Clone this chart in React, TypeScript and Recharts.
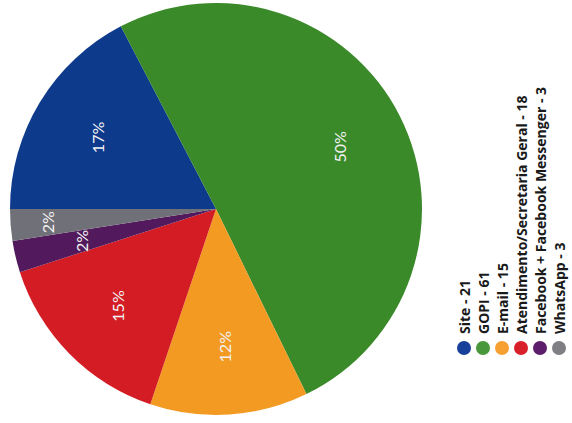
import React from "react";
import { PieChart, Pie, Cell, Legend } from "recharts";

const categories = [
  "Site - 21",
  "GOPI - 61",
  "E-mail - 15",
  "Atendimento/Secretaria Geral - 18",
  "Facebook + Facebook Messenger - 3",
  "WhatsApp - 3",
];
const values = [21, 61, 15, 18, 3, 3];
const colors = ["#0e3a8c", "#3a8a2a", "#f39a22", "#d41c24", "#521a5c", "#707078"];
const legendColors = ["#16409a", "#48973a", "#f7a032", "#d8202a", "#5c1e6c", "#7e7e84"];

const data = categories.map((name, i) => ({ name, value: values[i], fill: colors[i] }));

const RAD = Math.PI / 180;

const renderLabel = (props: any) => {
  const { cx, cy, midAngle, outerRadius, percent, index } = props;
  const f = index === 5 ? 0.82 : 0.67;
  const r = outerRadius * f;
  const x = cx + r * Math.cos(-midAngle * RAD);
  const y = cy + r * Math.sin(-midAngle * RAD);
  return (
    <text
      x={x}
      y={y}
      fill="#f2f2f2"
      fontFamily="Lato, sans-serif"
      fontSize={16}
      textAnchor="middle"
      dominantBaseline="central"
      transform={`rotate(-90, ${x}, ${y})`}
    >
      {`${Math.round(percent * 100)}%`}
    </text>
  );
};

const renderLegend = (props: any) => {
  const payload = [...(props.payload || [])].sort(
    (a: any, b: any) => categories.indexOf(a.value) - categories.indexOf(b.value)
  );
  const x0 = 19;
  const step = 19;
  return (
    <svg width={127} height={423} style={{ display: "block" }}>
      {payload.map((p: any) => {
        const i = categories.indexOf(p.value);
        const x = x0 + i * step;
        return (
          <g key={p.value}>
            <circle cx={x} cy={348} r={7} fill={legendColors[i]} />
            <text
              x={x}
              y={334}
              fill="#1a1a1a"
              fontFamily="'Open Sans', sans-serif"
              fontWeight={700}
              fontSize={14}
              textAnchor="start"
              dominantBaseline="central"
              transform={`rotate(-90, ${x}, 334)`}
            >
              {p.value}
            </text>
          </g>
        );
      })}
    </svg>
  );
};

export default function App() {
  return (
    <div style={{ position: "absolute", left: 0, top: 0, width: 572, height: 423, background: "#ffffff" }}>
      <PieChart width={572} height={423} margin={{ top: 0, right: 0, bottom: 0, left: 0 }}>
        <Pie
          data={data}
          dataKey="value"
          nameKey="name"
          cx={216}
          cy={209}
          outerRadius={206}
          startAngle={180}
          endAngle={-180}
          stroke="none"
          label={renderLabel}
          labelLine={false}
          isAnimationActive={false}
        >
          {data.map((d, i) => (
            <Cell key={i} fill={d.fill} />
          ))}
        </Pie>
        <Legend
          layout="vertical"
          align="right"
          verticalAlign="top"
          content={renderLegend}
          wrapperStyle={{ position: "absolute", left: 445, top: 0, width: 127, height: 423 }}
        />
      </PieChart>
    </div>
  );
}
